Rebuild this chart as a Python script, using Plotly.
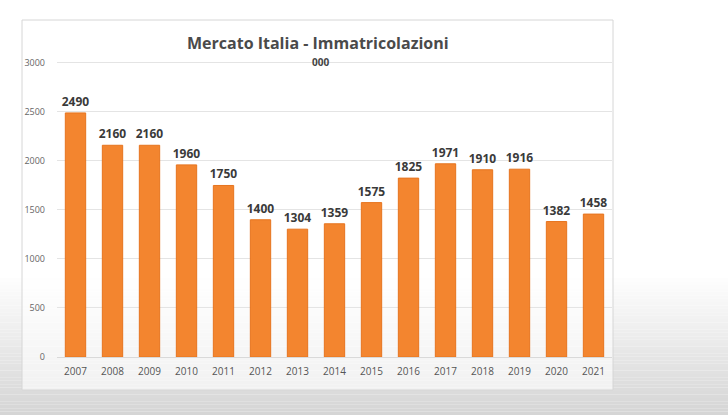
import plotly.graph_objects as go

years = ["2007", "2008", "2009", "2010", "2011", "2012", "2013", "2014",
         "2015", "2016", "2017", "2018", "2019", "2020", "2021"]
values = [2490, 2160, 2160, 1960, 1750, 1400, 1304, 1359,
          1575, 1825, 1971, 1910, 1916, 1382, 1458]
y_ticks = [0, 500, 1000, 1500, 2000, 2500, 3000]

W, H = 728, 415
L, R, T, B = 57, 612, 60, 357
YMAX = 3030


def px_x(px):
    return (px - L) / (R - L)


def px_y(py):
    return (B - py) / (B - T)


fig = go.Figure()
fig.add_trace(go.Bar(
    x=years, y=values,
    marker=dict(color="#f3852f", line=dict(color="#e6741f", width=1)),
    width=0.55,
    text=[str(v) for v in values],
    textposition="outside",
    constraintext="none",
    textfont=dict(family="Open Sans", size=12, color="#3a3a3a", weight="bold"),
    cliponaxis=False,
))

shapes = []
# grey gradient background at the bottom of the page
n = 40
top_g = 278
for i in range(n):
    y0 = top_g + (H - top_g) * i / n
    y1 = top_g + (H - top_g) * (i + 1) / n
    g = int(255 - 42 * (i + 1) / n)
    shapes.append(dict(type="rect", xref="paper", yref="paper", layer="below",
                       x0=px_x(0), x1=px_x(W), y0=px_y(y1), y1=px_y(y0),
                       fillcolor=f"rgb({g},{g},{g})", line=dict(width=0)))
# chart box (slightly translucent, so the page gradient shows faintly)
shapes.append(dict(type="rect", xref="paper", yref="paper", layer="below",
                   x0=px_x(22), x1=px_x(613), y0=px_y(390), y1=px_y(20),
                   fillcolor="rgba(255,255,255,0.62)",
                   line=dict(color="#d6d6d6", width=1)))

fig.update_layout(
    width=W, height=H,
    paper_bgcolor="white", plot_bgcolor="rgba(0,0,0,0)",
    margin=dict(l=L, r=W - R, t=T, b=H - B),
    showlegend=False,
    bargap=0.45,
    shapes=shapes,
    annotations=[
        dict(text="<b>Mercato Italia - Immatricolazioni</b>", xref="paper", yref="paper",
             x=px_x(318), y=px_y(43), showarrow=False,
             font=dict(family="Open Sans", size=16, color="#4a4a4a"),
             xanchor="center", yanchor="middle"),
        dict(text="<b>000</b>", xref="paper", yref="paper",
             x=px_x(320), y=px_y(62), showarrow=False,
             font=dict(family="Open Sans", size=10, color="#444444"),
             xanchor="center", yanchor="middle"),
    ],
    xaxis=dict(showgrid=False, showline=True, linecolor="#d9d9d9",
               tickfont=dict(family="Open Sans", size=10, color="#555555"),
               ticks="", ticklabelstandoff=5),
    yaxis=dict(range=[0, YMAX], tickvals=y_ticks, showgrid=True,
               gridcolor="#e4e4e4", zeroline=False,
               tickfont=dict(family="Open Sans", size=9, color="#666666"),
               ticks="", ticklabelstandoff=11),
)

fig.write_html("out.html",
               config={"displayModeBar": False},
               post_script="document.body.style.margin='0';document.body.style.overflow='hidden';")
